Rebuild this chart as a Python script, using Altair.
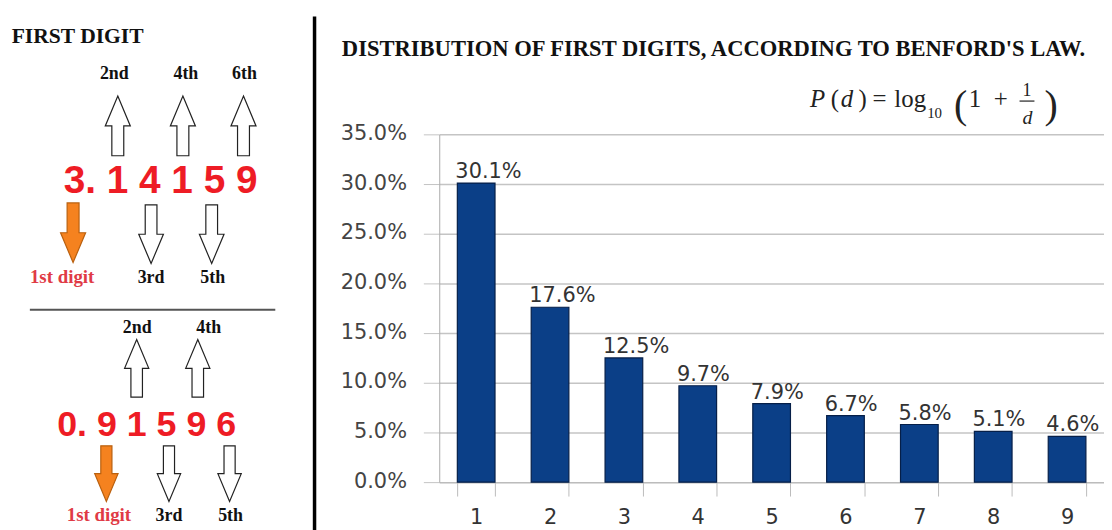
import altair as alt
import pandas as pd

# ---------------- data ----------------
digits = ["1", "2", "3", "4", "5", "6", "7", "8", "9"]
shares = [0.301, 0.176, 0.125, 0.097, 0.079, 0.067, 0.058, 0.051, 0.046]
share_labels = ["30.1%", "17.6%", "12.5%", "9.7%", "7.9%", "6.7%", "5.8%", "5.1%", "4.6%"]
y_ticks = [0.0, 0.05, 0.10, 0.15, 0.20, 0.25, 0.30, 0.35]

title_text = "DISTRIBUTION OF FIRST DIGITS, ACCORDING TO BENFORD'S LAW."
left_title = "FIRST DIGIT"
number_1 = "3. 1 4 1 5 9"
number_2 = "0. 9 1 5 9 6"
up_labels_1 = ["2nd", "4th", "6th"]
down_labels_1 = ["1st digit", "3rd", "5th"]
up_labels_2 = ["2nd", "4th"]
down_labels_2 = ["1st digit", "3rd", "5th"]

# ---------------- layout helpers ----------------
X0, Y0 = 442, 133.5      # page position of plot origin
PW, PH = 669, 350
dummy = pd.DataFrame({"k": [0]})


def px(x):
    return x - X0


def py(y):
    return y - Y0


def txt(s, x, y, size, font="Liberation Serif", weight="normal", color="#111111",
        align="left", style="normal"):
    return alt.Chart(dummy).mark_text(
        text=s, font=font, fontSize=size, fontWeight=weight, color=color,
        align=align, baseline="alphabetic", fontStyle=style
    ).encode(x=alt.value(px(x)), y=alt.value(py(y)))


ARROW = "M0,-1 L0.42,0 L0.2,0 L0.2,1 L-0.2,1 L-0.2,0 L-0.42,0 Z"


def arrow(x, y, size, down=False, fill="white", stroke="#222222"):
    return alt.Chart(dummy).mark_point(
        shape=ARROW, size=size, filled=True, fill=fill, stroke=stroke,
        strokeWidth=1.2, opacity=1, angle=180 if down else 0
    ).encode(x=alt.value(px(x)), y=alt.value(py(y)))


def vrule(x, y1, y2, color, w):
    return alt.Chart(dummy).mark_rule(color=color, strokeWidth=w).encode(
        x=alt.value(px(x)), y=alt.value(py(y1)), y2=alt.value(py(y2)))


def hrule(x1, x2, y, color, w):
    return alt.Chart(dummy).mark_rule(color=color, strokeWidth=w).encode(
        x=alt.value(px(x1)), x2=alt.value(px(x2)), y=alt.value(py(y)))


RED = "#ee1c25"
PINK = "#e03a45"
ORANGE = "#f5821f"
INK = "#222222"

# ---------------- bar chart ----------------
df = pd.DataFrame({"digit": digits, "share": shares, "label": share_labels})

xenc = alt.X(
    "digit:N", sort=digits,
    scale=alt.Scale(paddingInner=0.49, paddingOuter=0.245),
    axis=alt.Axis(title=None, labelAngle=0, labelFont="DejaVu Sans", labelFontSize=21,
                  labelColor="#333333", tickBand="extent", tickSize=14, tickColor="#bbbbbb",
                  domainColor="#bbbbbb", labelPadding=11, grid=False),
)
yenc = alt.Y(
    "share:Q",
    scale=alt.Scale(domain=[0, 0.35], nice=False),
    axis=alt.Axis(title=None, format=".1%", values=y_ticks, labelFont="DejaVu Sans",
                  labelFontSize=21, labelColor="#444444", tickSize=16, tickColor="#c4c4c4",
                  gridColor="#c4c4c4", gridWidth=1.5, domainColor="#aaaaaa",
                  labelPadding=17, labelOffset=-1),
)

bars = alt.Chart(df).mark_bar(color="#0b3f87", stroke="#061f48", strokeWidth=1.2).encode(
    x=xenc, y=yenc)
values = alt.Chart(df).mark_text(
    align="left", baseline="alphabetic", dx=-2, dy=-5, font="DejaVu Sans",
    fontSize=21, color="#333333"
).encode(x=alt.X("digit:N", sort=digits, bandPosition=0), y="share:Q", text="label:N")

# ---------------- decorations ----------------
deco = [
    vrule(316.5, 15, 540, "#000000", 3.5),
    txt(title_text, 344, 55, 22.7, weight="bold"),
    # formula  P(d) = log10(1 + 1/d)
    txt("P", 815, 106, 25, style="italic", color=INK),
    txt("(", 836, 106, 25, color=INK),
    txt("d", 846, 106, 25, style="italic", color=INK),
    txt(")", 864, 106, 25, color=INK),
    txt("=", 878, 106, 25, color=INK),
    txt("log", 900, 106, 25, color=INK),
    txt("10", 933, 117, 15, color=INK),
    txt("(", 960, 117, 40, color=INK),
    txt("1", 975, 106, 25, color=INK),
    txt("+", 1000, 106, 25, color=INK),
    txt("1", 1033.5, 95, 18, align="center", color=INK),
    hrule(1026, 1041, 100, INK, 1.2),
    txt("d", 1034, 123, 20, align="center", style="italic", color=INK),
    txt(")", 1051, 117, 40, color=INK),
    # left diagram, first number
    txt(left_title, 11.7, 41.7, 21.7, weight="bold"),
    txt(up_labels_1[0], 115, 78, 18, weight="bold", align="center"),
    txt(up_labels_1[1], 187, 78, 18, weight="bold", align="center"),
    txt(up_labels_1[2], 246, 78, 18, weight="bold", align="center"),
    arrow(118.5, 125, 3600),
    arrow(184, 125, 3600),
    arrow(245, 125, 3600),
    txt(number_1, 64, 193, 39, font="Liberation Sans", weight="bold", color=RED),
    arrow(73.5, 232.5, 3600, down=True, fill=ORANGE, stroke="#b9600f"),
    arrow(152, 234, 3481, down=True),
    arrow(213, 234, 3481, down=True),
    txt(down_labels_1[0], 62.5, 283, 19, weight="bold", align="center", color=PINK),
    txt(down_labels_1[1], 152, 283, 18, weight="bold", align="center"),
    txt(down_labels_1[2], 214, 283, 18, weight="bold", align="center"),
    hrule(30, 277, 310, "#555555", 2),
    # second number
    txt(up_labels_2[0], 138, 333, 18, weight="bold", align="center"),
    txt(up_labels_2[1], 210, 333, 18, weight="bold", align="center"),
    arrow(137.5, 369, 3364),
    arrow(199, 369, 3364),
    txt(number_2, 57.5, 437, 36, font="Liberation Sans", weight="bold", color=RED),
    arrow(107, 475, 3136, down=True, fill=ORANGE, stroke="#b9600f"),
    arrow(170, 475, 3136, down=True),
    arrow(231, 475, 3136, down=True),
    txt(down_labels_2[0], 99.5, 523, 19, weight="bold", align="center", color=PINK),
    txt(down_labels_2[1], 170, 523, 18, weight="bold", align="center"),
    txt(down_labels_2[2], 232, 523, 18, weight="bold", align="center"),
]

chart = alt.layer(bars, values, *deco).properties(
    width=PW, height=PH,
    padding={"left": X0 - 8, "top": Y0 - 8, "right": 0, "bottom": 46.5},
    autosize=alt.AutoSizeParams(type="none"),
).configure_view(stroke="transparent")

chart.save("out.html", embed_options={"renderer": "svg", "actions": False})
